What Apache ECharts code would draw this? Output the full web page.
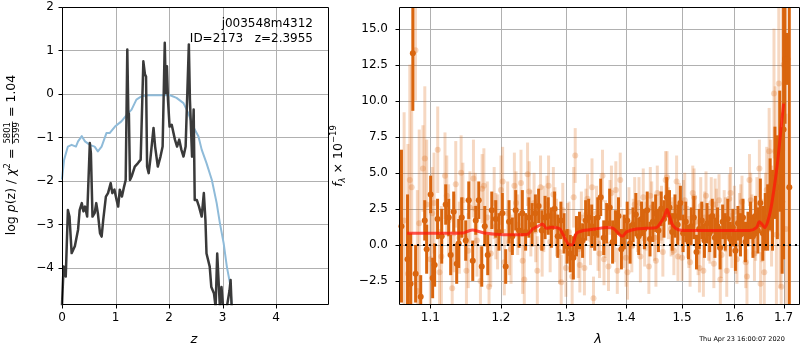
<!DOCTYPE html>
<html><head><meta charset="utf-8">
<script src="https://cdn.jsdelivr.net/npm/echarts@6/dist/echarts.min.js"></script>
<style>html,body{margin:0;padding:0;background:#fff}#c{width:800px;height:350px}</style>
</head><body><div id="c"></div>
<script>
// ---------- left panel: p(z) ----------
const zBlue = [0,0.04,0.11,0.18,0.26,0.30,0.37,0.43,0.52,0.61,0.67,0.74,0.83,0.89,0.99,1.11,1.21,1.30,1.39,1.49,1.61,1.80,2.02,2.14,2.27,2.36,2.45,2.55,2.61,2.70,2.80,2.89,2.95,3.02,3.08,3.14,3.17];
const pBlue = [-1.95,-1.51,-1.21,-1.17,-1.21,-1.09,-0.97,-1.09,-1.17,-1.21,-1.32,-1.21,-0.90,-0.90,-0.75,-0.63,-0.48,-0.36,-0.13,-0.05,-0.03,-0.03,-0.03,-0.09,-0.21,-0.44,-0.75,-0.98,-1.28,-1.59,-1.98,-2.51,-2.97,-3.43,-3.97,-4.36,-4.84];
const zBlack = [0.00,0.03,0.07,0.11,0.14,0.18,0.24,0.30,0.33,0.37,0.40,0.43,0.47,0.52,0.54,0.57,0.61,0.64,0.67,0.71,0.74,0.77,0.82,0.86,0.91,0.94,0.98,1.02,1.05,1.08,1.12,1.16,1.19,1.22,1.24,1.25,1.27,1.30,1.36,1.42,1.47,1.52,1.55,1.57,1.59,1.62,1.65,1.71,1.74,1.79,1.84,1.88,1.92,1.94,1.96,1.98,2.01,2.05,2.11,2.15,2.19,2.23,2.27,2.31,2.37,2.39,2.43,2.46,2.48,2.52,2.56,2.61,2.65,2.68,2.70,2.76,2.79,2.84,2.87,2.90,2.92,2.95,2.98,3.01,3.08,3.13,3.15,3.17];
const pBlack = [-4.85,-3.97,-4.20,-2.67,-2.82,-3.66,-3.50,-3.12,-2.67,-2.51,-2.70,-2.59,-2.82,-1.13,-1.36,-2.82,-2.74,-2.51,-2.74,-3.20,-3.28,-2.90,-2.36,-2.28,-2.05,-2.28,-2.20,-2.44,-2.59,-2.20,-2.36,-2.13,-1.98,1.02,-0.50,-0.45,-1.98,-1.90,-1.67,-1.59,-1.51,0.75,0.45,0.40,-1.67,-1.82,-1.51,-0.78,-1.21,-1.67,-1.44,-1.21,1.18,0.02,0.64,-0.13,-0.75,-0.71,-1.05,-1.21,-1.05,-1.28,-1.44,-1.21,1.14,-0.13,-1.44,-0.36,-2.44,-2.44,-2.59,-2.82,-2.28,-2.90,-3.67,-3.97,-4.44,-4.59,-4.90,-3.67,-3.67,-4.90,-4.44,-4.90,-4.90,-4.52,-4.28,-4.90];
const zTicks = [0,1,2,3,4];
const pTicks = [-4,-3,-2,-1,0,1,2];

// ---------- right panel: spectrum ----------
const lamTicks = [1.1,1.2,1.3,1.4,1.5,1.6,1.7];
const fTicks = [-2.5,0,2.5,5,7.5,10,12.5,15];

const lamA = [1.065,1.070,1.075,1.080,1.085,1.090,1.095,1.100,1.105,1.110,1.115,1.120,1.125,1.130,1.135,1.140,1.145,1.150,1.155,1.160,
1.165,1.170,1.175,1.180,1.185,1.190,1.195,1.200,1.205,1.210,1.215,1.220,1.225,1.230,1.235,1.240,1.245,1.250,1.255,1.260,
1.265,1.270,1.275,1.280,1.285,1.290,1.295,1.300,1.305,1.310,1.315,1.320,1.325,1.330,1.335,1.340,1.345,1.350,1.355,1.360,
1.365,1.370,1.375,1.380,1.385,1.390,1.395,1.400,1.405,1.410,1.415,1.420,1.425,1.430,1.435,1.440,1.445,1.450,1.455,1.460,
1.465,1.470,1.475,1.480,1.485,1.490,1.495,1.500,1.505,1.510,1.515,1.520,1.525,1.530,1.535,1.540,1.545,1.550,1.555,1.560,
1.565,1.570,1.575,1.580,1.585,1.590,1.595,1.600,1.605,1.610,1.615,1.620,1.625,1.630,1.635,1.640,1.645,1.650,1.655,1.660,
1.665,1.670,1.675,1.680,1.685,1.690,1.695,1.700,1.705];
const fluxA = [1.7,-2.0,4.0,13.5,1.5,5.3,2.8,-1.0,2.9,6.6,-0.8,4.8,1.7,-3.0,4.2,0.5,3.1,-1.8,2.6,4.6,
0.3,-2.5,4.1,1.9,-0.6,2.9,0.9,3.8,-1.2,2.2,-0.3,4.1,1.4,4.3,-2.4,4.9,1.5,2.9,-1.8,4.0,
1.8,2.8,0.2,3.5,1.2,-0.5,2.4,-1.6,0.9,-2.2,6.2,-0.3,1.9,-1.6,3.2,0.4,-3.7,2.2,-0.6,4.8,
1.1,-1.5,3.6,0.6,-1.8,4.5,0.2,-0.9,2.3,-0.1,2.8,1.1,-0.8,3.3,1.3,-1.5,2.6,0.5,3.6,1.9,
-0.5,4.5,2.2,1.1,-0.4,4.4,2.3,-0.9,3.1,0.9,-1.2,3.6,1.6,-0.5,2.7,-1.8,3.4,0.8,2.9,-1.3,
2.0,3.1,-0.7,1.8,-1.8,3.2,0.3,2.3,-1.0,1.6,3.0,0.4,-2.2,4.5,1.8,-0.6,2.7,5.3,1.0,-1.9,
3.8,6.5,2.0,10.5,0.7,11.2,-2.9,12.5,1.1];
const errA = [7.5,9.0,8.5,3.5,6.5,3.0,4.5,4.0,3.5,3.0,3.5,3.0,2.5,2.5,3.0,2.5,2.6,2.4,2.5,2.7,
2.5,2.4,2.6,2.5,2.3,2.5,2.6,2.4,2.3,2.2,2.4,2.3,2.1,2.3,2.4,2.2,2.3,2.1,2.4,2.2,
2.3,2.0,2.1,1.9,2.0,2.2,1.9,2.0,2.1,2.0,1.9,2.0,1.8,1.9,1.7,1.8,1.5,1.9,1.7,1.8,
2.0,1.7,1.9,1.8,1.6,1.9,1.8,2.0,1.7,1.8,1.9,1.6,1.8,2.0,1.7,1.9,1.8,1.6,1.9,1.8,
1.7,2.0,1.8,1.9,1.7,1.8,2.0,1.6,1.9,1.8,1.7,1.9,1.8,1.6,2.0,1.8,1.7,1.9,1.8,1.7,
1.9,1.8,1.6,2.0,1.8,1.7,1.9,1.8,1.7,2.0,1.8,1.6,1.9,1.8,1.7,1.9,2.0,2.0,2.2,2.5,
3.0,3.0,3.5,4.5,5.0,6.0,7.0,6.0,8.0];

const lamC = [1.0725,1.0825,1.0925,1.1025,1.1125,1.1225,1.1325,1.1425,1.1525,1.1625,1.1725,1.1825,1.1925,1.2025,1.2125,1.2225,1.2325,1.2425,1.2525,1.2625,
1.2725,1.2825,1.2925,1.3025,1.3125,1.3225,1.3325,1.3425,1.3525,1.3625,1.3725,1.3825,1.3925,1.4025,1.4125,1.4225,1.4325,1.4425,1.4525,1.4625,
1.4725,1.4825,1.4925,1.5025,1.5125,1.5225,1.5325,1.5425,1.5525,1.5625,1.5725,1.5825,1.5925,1.6025,1.6125,1.6225,1.6325,1.6425,1.6525,1.6625,
1.6725,1.6825,1.6925,1.6975];
const fluxC = [4.5,-3.2,6.0,2.2,-1.9,3.4,0.8,5.0,-0.4,2.5,3.9,-2.9,1.3,4.4,0.2,2.9,-1.1,3.7,1.0,-0.2,
4.1,2.0,-2.6,0.9,3.3,-1.4,2.1,4.0,0.1,-1.0,2.6,3.8,0.7,-1.9,1.5,2.9,0.4,3.4,-1.1,2.2,
4.7,1.3,-0.8,2.6,0.2,3.3,-1.6,1.9,0.6,2.8,-2.4,1.4,3.6,0.0,2.3,-1.2,3.1,1.0,-2.7,2.4,
4.1,6.5,3.5,9.0];
const errC = [8.0,7.0,5.0,3.2,3.0,2.8,2.7,2.6,2.6,2.5,2.4,2.5,2.3,2.4,2.3,2.2,2.3,2.1,2.2,2.0,
2.1,2.0,1.9,2.0,2.1,1.9,1.8,2.0,1.9,1.8,1.9,2.0,1.8,1.9,1.7,1.8,1.9,2.0,1.8,1.9,
1.8,2.0,1.7,1.9,1.8,2.0,1.7,1.8,1.9,1.8,1.7,1.9,1.8,2.0,1.9,1.8,1.9,2.1,2.2,2.6,
3.2,4.5,6.5,8.0];

const lamB = [1.0615,1.0695,1.0735,1.0765,1.0802,1.0870,1.0924,1.0950,1.1004,1.1031,1.1058,1.1098,1.1155,1.1210,1.1252,1.1279,1.1321,1.1363,1.1391,1.1434,
1.1490,1.1533,1.1590,1.1633,1.1676,1.1719,1.1763,1.1806,1.1865,1.1923,
1.197,1.202,1.207,1.212,1.217,1.222,1.227,1.232,1.237,1.242,1.247,1.252,1.257,1.262,1.267,1.272,1.277,1.282,1.287,1.292,
1.297,1.302,1.307,1.312,1.317,1.322,1.327,1.332,1.337,1.342,1.347,1.352,1.357,1.362,1.367,1.372,1.377,1.382,1.387,1.392,
1.397,1.402,1.407,1.412,1.417,1.422,1.427,1.432,1.437,1.442,1.447,1.452,1.457,1.462,1.467,1.472,1.477,1.482,1.487,1.492,
1.497,1.502,1.507,1.512,1.517,1.522,1.527,1.532,1.537,1.542,1.547,1.552,1.557,1.562,1.567,1.572,1.577,1.582,1.587,1.592,
1.597,1.602,1.607,1.612,1.617,1.622,1.627,1.632,1.637,1.642,1.647,1.652,1.657,1.662,1.667,1.672,1.677,1.682,1.687,1.692,
1.697,1.700,1.703,1.708,1.712];
const fluxB = [1.3,-1.0,-2.7,13.3,-2.0,-3.6,1.7,-0.3,3.5,-2.3,-1.4,1.8,0.6,2.8,1.9,-0.7,2.3,-1.3,0.1,1.9,
0.3,3.1,-1.1,1.7,3.1,-1.5,1.3,-0.7,2.4,1.8,
0.9,2.2,-1.5,1.6,0.6,2.4,1.0,2.2,0.9,1.9,1.4,2.2,2.7,1.0,1.9,2.0,1.2,2.5,0.6,1.7,
0.8,-0.1,-0.6,-0.9,0.6,1.0,0.3,1.7,1.9,1.3,0.8,1.9,3.3,0.5,1.5,2.6,0.2,1.2,2.0,-0.3,
0.9,1.7,0.1,1.4,2.1,0.6,1.8,1.1,2.4,0.4,1.6,2.2,1.0,2.5,1.8,3.3,2.6,0.9,2.0,1.4,
2.9,0.8,1.6,0.2,1.3,1.9,-0.5,1.1,1.7,0.3,1.5,0.8,2.0,0.5,1.3,-0.2,1.6,0.9,1.8,0.4,
1.2,-0.4,1.5,0.7,1.9,0.2,1.1,1.7,0.6,2.0,1.0,2.9,0.8,1.6,1.9,3.5,2.4,5.0,4.0,6.5,
3.0,8.0,12.9,12.9,4.0];
const errB = [5.3,4.5,3.5,4.0,2.0,1.5,1.4,1.7,1.3,1.4,1.5,1.4,1.9,1.4,1.3,1.4,1.4,1.4,1.7,1.4,
1.4,1.3,1.4,1.0,1.3,1.4,1.4,1.4,1.3,1.3,
1.3,1.4,1.2,1.5,1.3,1.4,1.2,1.6,1.3,1.4,1.5,1.3,1.2,1.4,1.5,1.3,1.4,1.2,1.5,1.3,
1.4,1.2,1.3,1.5,1.4,1.3,1.2,1.4,1.3,1.5,1.2,1.4,1.3,1.2,1.4,1.3,1.5,1.2,1.3,1.4,
1.2,1.3,1.4,1.2,1.5,1.3,1.2,1.4,1.3,1.2,1.4,1.3,1.5,1.2,1.3,1.4,1.2,1.3,1.5,1.4,
1.2,1.3,1.4,1.2,1.3,1.5,1.2,1.4,1.3,1.2,1.4,1.3,1.2,1.4,1.3,1.5,1.2,1.3,1.4,1.2,
1.3,1.4,1.2,1.5,1.3,1.4,1.2,1.3,1.5,1.4,1.6,1.7,1.9,2.0,2.3,2.5,2.8,3.2,3.6,4.2,
5.0,9.0,4.5,1.8,14.0];

const lamM = [1.069,1.100,1.145,1.152,1.159,1.166,1.179,1.203,1.239,1.248,1.256,1.263,1.269,1.277,1.290,1.295,1.303,1.310,1.317,1.328,1.339,1.350,1.367,1.378,1.389,1.394,1.401,1.418,1.436,1.453,1.462,1.468,1.4725,1.477,1.483,1.493,1.508,1.558,1.630,1.644,1.650,1.656,1.661,1.667,1.674,1.681,1.688,1.695,1.700];
const fluxM = [0.80,0.80,0.82,0.95,1.03,0.95,0.80,0.70,0.72,1.10,1.30,1.45,1.15,1.22,1.12,0.75,0.10,0.00,0.80,1.00,1.05,1.12,1.20,1.15,0.70,0.60,0.90,1.10,1.15,1.20,1.60,2.00,2.45,2.00,1.35,1.05,1.00,1.00,1.00,1.20,1.60,1.40,1.20,1.60,2.60,4.10,5.90,8.20,9.80];

// ---------- build ----------
const FONT = '"DejaVu Sans"';
const Z_MIN = 0, Z_MAX = 4.97, P_MIN = -4.83, P_MAX = 2;
const L_MIN = 1.0583, L_MAX = 1.7326, F_MIN = -4.1, F_MAX = 16.5;
const minus = s => String(s).replace('-', '\u2212');

function zip2(a, b) { return a.map((v, i) => [v, b[i]]); }
function zip3(a, b, c) { return a.map((v, i) => [v, b[i], c[i]]); }

function errRender(color, lw, r) {
  return function (params, api) {
    const x = api.value(0), y = api.value(1), e = api.value(2);
    const lo = Math.max(y - e, F_MIN), hi = Math.min(y + e, F_MAX);
    const ch = [];
    if (hi > lo) {
      const p1 = api.coord([x, lo]), p2 = api.coord([x, hi]);
      ch.push({type: 'line', shape: {x1: p1[0], y1: p1[1], x2: p2[0], y2: p2[1]},
               style: {stroke: color, lineWidth: lw}});
    }
    if (y >= F_MIN && y <= F_MAX) {
      const c = api.coord([x, y]);
      ch.push({type: 'circle', shape: {cx: c[0], cy: c[1], r: r}, style: {fill: color}});
    }
    return {type: 'group', children: ch};
  };
}
// grid line + outward tick mark for each tick value
function gridRender(vertical) {
  return function (params, api) {
    const cs = params.coordSys;
    const p = api.coord([api.value(0), api.value(1)]);
    let g, t;
    if (vertical) {
      const x = Math.round(p[0]) + 0.5, yb = Math.round(cs.y + cs.height) + 0.5;
      g = {x1: x, y1: cs.y, x2: x, y2: cs.y + cs.height};
      t = {x1: x, y1: yb, x2: x, y2: yb + 4};
    } else {
      const y = Math.round(p[1]) + 0.5, xl = Math.round(cs.x) + 0.5;
      g = {x1: cs.x, y1: y, x2: cs.x + cs.width, y2: y};
      t = {x1: xl - 4, y1: y, x2: xl, y2: y};
    }
    return {type: 'group', children: [
      {type: 'line', shape: g, style: {stroke: '#b0b0b0', lineWidth: 1, fill: null}},
      {type: 'line', shape: t, style: {stroke: '#000', lineWidth: 1, fill: null}}
    ]};
  };
}
function frameRender(params, api) {
  const cs = params.coordSys;
  return {type: 'group', children: [{type: 'rect',
    shape: {x: Math.round(cs.x) + 0.5, y: Math.round(cs.y) + 0.5, width: Math.round(cs.width), height: Math.round(cs.height)},
    style: {fill: null, stroke: '#000', lineWidth: 1}}]};
}

const ctx = document.createElement('canvas').getContext('2d');
function measure(t, font) { ctx.font = font; return ctx.measureText(t).width; }
function txt(t, x, y, font, align) {
  return {type: 'text', x: x, y: y, z: 100, style: {text: t, font: font, fill: '#000',
          align: align, textAlign: align, verticalAlign: 'middle', textVerticalAlign: 'middle'}};
}
function mathLabel(cx, cy, pieces, rot) {
  let total = 0;
  pieces.forEach(p => {
    if (p.frac) {
      p.font = p.size + 'px ' + FONT;
      p.w = Math.max(measure(p.frac[0], p.font), measure(p.frac[1], p.font)) + 2;
    } else {
      p.font = (p.it ? 'italic ' : '') + p.size + 'px ' + FONT;
      p.w = measure(p.t, p.font);
    }
    total += p.w;
  });
  let x = -total / 2;
  const ch = [];
  pieces.forEach(p => {
    if (p.frac) {
      const mid = x + p.w / 2;
      ch.push(txt(p.frac[0], mid, -4.3, p.font, 'center'));
      ch.push(txt(p.frac[1], mid, 5.2, p.font, 'center'));
      ch.push({type: 'line', shape: {x1: x + 0.5, y1: 0.5, x2: x + p.w - 0.5, y2: 0.5},
               style: {stroke: '#000', lineWidth: 0.8}});
    } else {
      ch.push(txt(p.t, x, p.dy || 0, p.font, 'left'));
    }
    x += p.w;
  });
  return {type: 'group', x: cx, y: cy, rotation: rot, children: ch};
}

const tickLabel = {color: '#000', fontSize: 12, fontFamily: FONT};
const noSplit = {show: false};
const noLine = {show: false, onZero: false};
const tick = vals => ({show: false, customValues: vals});

const option = {
  animation: false,
  backgroundColor: '#fff',
  textStyle: {fontFamily: FONT},
  grid: [
    {left: 62, top: 7, width: 266, height: 297, show: false},
    {left: 399, top: 7, width: 400, height: 297, show: false}
  ],
  xAxis: [
    {type: 'value', gridIndex: 0, min: Z_MIN, max: Z_MAX, axisLine: noLine,
     axisTick: tick(zTicks), splitLine: noSplit,
     axisLabel: Object.assign({customValues: zTicks, margin: 8, formatter: v => minus(v)}, tickLabel)},
    {type: 'log', logBase: 10, gridIndex: 1, min: L_MIN, max: L_MAX, axisLine: noLine,
     axisTick: tick(lamTicks), splitLine: noSplit, minorTick: {show: false}, minorSplitLine: {show: false},
     axisLabel: Object.assign({customValues: lamTicks, margin: 8, formatter: v => Number(v).toFixed(1)}, tickLabel)}
  ],
  yAxis: [
    {type: 'value', gridIndex: 0, min: P_MIN, max: P_MAX, axisLine: noLine,
     axisTick: tick(pTicks), splitLine: noSplit,
     axisLabel: Object.assign({customValues: pTicks, margin: 8, formatter: v => minus(v)}, tickLabel)},
    {type: 'value', gridIndex: 1, min: F_MIN, max: F_MAX, axisLine: noLine,
     axisTick: tick(fTicks), splitLine: noSplit,
     axisLabel: Object.assign({customValues: fTicks, margin: 11, formatter: v => minus(Number(v).toFixed(1))}, tickLabel)}
  ],
  series: [
    {type: 'custom', xAxisIndex: 0, yAxisIndex: 0, z: 2, silent: true, clip: false,
     data: zTicks.map(v => [v, 0]), encode: {x: 0, y: 1}, renderItem: gridRender(true)},
    {type: 'custom', xAxisIndex: 0, yAxisIndex: 0, z: 2, silent: true, clip: false,
     data: pTicks.map(v => [1, v]), encode: {x: 0, y: 1}, renderItem: gridRender(false)},
    {type: 'custom', xAxisIndex: 1, yAxisIndex: 1, z: 2, silent: true, clip: false,
     data: lamTicks.map(v => [v, 0]), encode: {x: 0, y: 1}, renderItem: gridRender(true)},
    {type: 'custom', xAxisIndex: 1, yAxisIndex: 1, z: 2, silent: true, clip: false,
     data: fTicks.map(v => [1.3, v]), encode: {x: 0, y: 1}, renderItem: gridRender(false)},
    {type: 'line', xAxisIndex: 0, yAxisIndex: 0, data: zip2(zBlue, pBlue), showSymbol: false, symbol: 'none',
     lineStyle: {color: '#8fbbd9', width: 2, join: 'round', cap: 'round'}, z: 3},
    {type: 'line', xAxisIndex: 0, yAxisIndex: 0, data: zip2(zBlack, pBlack), showSymbol: false, symbol: 'none',
     lineStyle: {color: '#3a3a3a', width: 2.5, join: 'round', cap: 'round'}, z: 4},
    {type: 'custom', xAxisIndex: 1, yAxisIndex: 1, data: zip3(lamA, fluxA, errA),
     encode: {x: 0, y: 1}, renderItem: errRender('rgba(222,110,30,0.27)', 3, 3), z: 3},
    {type: 'custom', xAxisIndex: 1, yAxisIndex: 1, data: zip3(lamC, fluxC, errC),
     encode: {x: 0, y: 1}, renderItem: errRender('rgba(222,110,30,0.27)', 3, 3), z: 3},
    {type: 'custom', xAxisIndex: 1, yAxisIndex: 1, data: zip3(lamB, fluxB, errB),
     encode: {x: 0, y: 1}, renderItem: errRender('#d9650e', 3, 3), z: 4},
    {type: 'line', xAxisIndex: 1, yAxisIndex: 1, data: zip2(lamM, fluxM), showSymbol: false, symbol: 'none',
     smooth: 0.3, lineStyle: {color: 'rgba(255,20,10,0.72)', width: 3, join: 'round'}, z: 5,
     markLine: {silent: true, symbol: 'none', animation: false, label: {show: false}, emphasis: {disabled: true},
       lineStyle: {color: '#000', width: 2, type: [2, 4]}, data: [{yAxis: 0}]}},
    {type: 'custom', xAxisIndex: 0, yAxisIndex: 0, z: 6, silent: true, clip: false,
     data: [[1, 0]], encode: {x: 0, y: 1}, renderItem: frameRender},
    {type: 'custom', xAxisIndex: 1, yAxisIndex: 1, z: 6, silent: true, clip: false,
     data: [[1.3, 0]], encode: {x: 0, y: 1}, renderItem: frameRender}
  ],
  graphic: [
    mathLabel(12, 155, [
      {t: 'log ', size: 12.5}, {t: 'p', size: 12.5, it: true}, {t: '(z) / ', size: 12.5},
      {t: '\u03c7', size: 12.5, it: true}, {t: '2', size: 8.5, dy: -4.5}, {t: ' = ', size: 12.5},
      {frac: ['5801', '5599'], size: 8.5}, {t: ' = 1.04', size: 12.5}
    ], Math.PI / 2),
    mathLabel(339, 156, [
      {t: 'f', size: 12.5, it: true}, {t: '\u03bb', size: 8.5, it: true, dy: 3.5},
      {t: ' \u00d7 10', size: 12.5}, {t: '\u221219', size: 8.5, dy: -5}
    ], Math.PI / 2),
    txt('z', 194, 340, 'italic 13px ' + FONT, 'center'),
    txt('\u03bb', 598, 340, 'italic 13px ' + FONT, 'center'),
    txt('j003548m4312', 313, 24, '12px ' + FONT, 'right'),
    txt('ID=2173   z=2.3955', 313, 39, '12px ' + FONT, 'right'),
    txt('Thu Apr 23 16:00:07 2020', 742, 339, '6.5px ' + FONT, 'center')
  ]
};

const chart = echarts.init(document.getElementById('c'), null, {renderer: 'canvas'});
chart.setOption(option);
</script>
</body></html>
